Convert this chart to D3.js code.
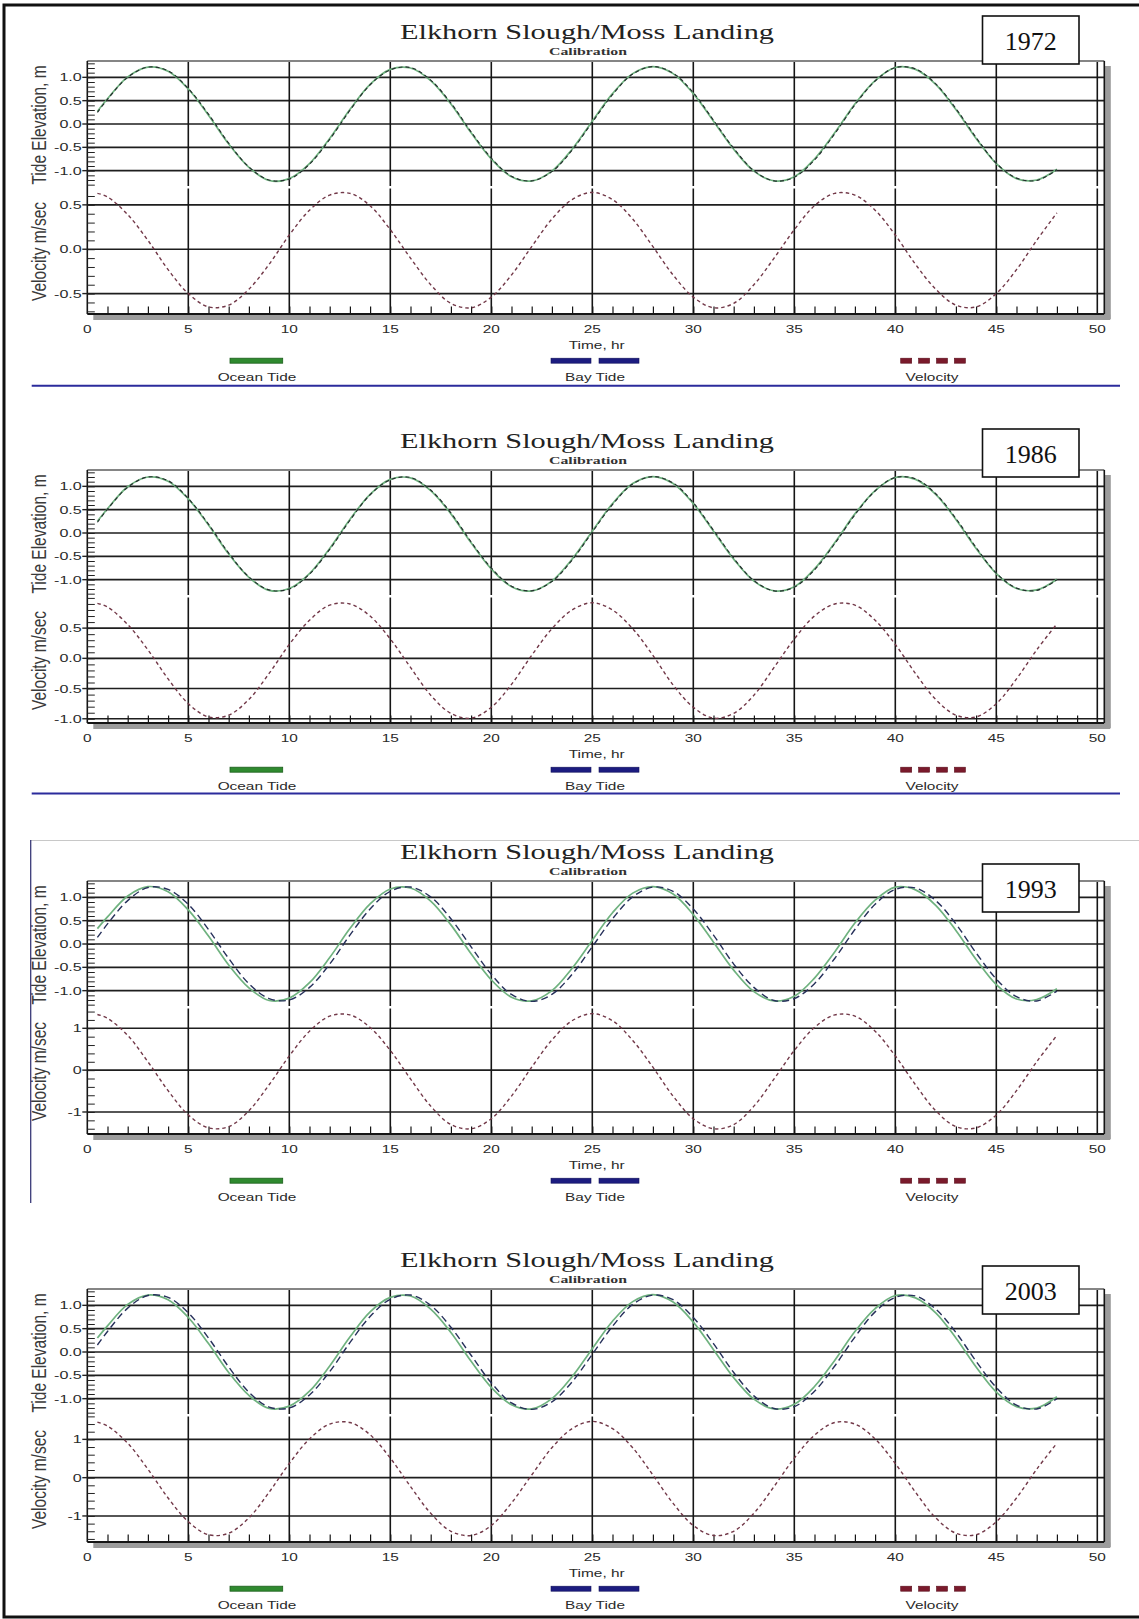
<!DOCTYPE html>
<html><head><meta charset="utf-8">
<script src="https://cdn.jsdelivr.net/npm/d3@7"></script>
<style>body{margin:0;background:#fff}svg{display:block}</style>
</head><body>
<svg id="chart" width="1139" height="1619"></svg>
<script>
// ---------------- DATA ----------------
const titleText = "Elkhorn Slough/Moss Landing";
const subtitleText = "Calibration";
const years = ["1972", "1986", "1993", "2003"];
const hours = [0.5,1,2,3,4,5,6,7,8,9,10,11,12,13,14,15,16,17,18,19,20,21,22,23,24,25,26,27,28,29,30,31,32,33,34,35,36,37,38,39,40,41,42,43,44,45,46,47,48];

const oceanTide1972 = [0.27,0.54,1.01,1.22,1.13,0.75,0.19,-0.43,-0.93,-1.21,-1.17,-0.85,-0.31,0.31,0.85,1.17,1.20,0.93,0.43,-0.19,-0.75,-1.13,-1.22,-1.01,-0.54,0.06,0.65,1.08,1.23,1.08,0.65,0.06,-0.54,-1.01,-1.22,-1.13,-0.75,-0.19,0.43,0.93,1.21,1.17,0.85,0.31,-0.31,-0.85,-1.17,-1.20,-0.97];
const bayTide1972   = [0.25,0.53,1.00,1.22,1.14,0.76,0.21,-0.41,-0.92,-1.20,-1.18,-0.86,-0.33,0.29,0.84,1.16,1.21,0.94,0.45,-0.17,-0.73,-1.12,-1.22,-1.02,-0.56,0.04,0.63,1.07,1.23,1.09,0.67,0.08,-0.52,-1.00,-1.22,-1.14,-0.77,-0.21,0.41,0.92,1.21,1.18,0.86,0.33,-0.29,-0.84,-1.16,-1.21,-0.98];
const velocity1972  = [0.63,0.59,0.39,0.10,-0.23,-0.50,-0.65,-0.63,-0.45,-0.17,0.16,0.44,0.61,0.63,0.49,0.22,-0.10,-0.40,-0.61,-0.66,-0.54,-0.29,0.03,0.34,0.56,0.64,0.56,0.34,0.03,-0.29,-0.54,-0.66,-0.61,-0.40,-0.10,0.22,0.49,0.63,0.61,0.44,0.16,-0.17,-0.45,-0.63,-0.65,-0.50,-0.23,0.10,0.41];

const oceanTide1986 = [0.25,0.52,0.99,1.20,1.11,0.73,0.17,-0.45,-0.95,-1.23,-1.19,-0.87,-0.33,0.29,0.83,1.15,1.18,0.91,0.41,-0.21,-0.77,-1.15,-1.24,-1.03,-0.56,0.04,0.63,1.06,1.21,1.06,0.63,0.04,-0.56,-1.03,-1.24,-1.15,-0.77,-0.21,0.41,0.91,1.19,1.15,0.83,0.29,-0.33,-0.87,-1.19,-1.22,-0.99];
const bayTide1986   = [0.23,0.51,0.98,1.20,1.12,0.74,0.19,-0.43,-0.94,-1.22,-1.20,-0.88,-0.35,0.27,0.82,1.14,1.19,0.92,0.43,-0.19,-0.75,-1.14,-1.24,-1.04,-0.58,0.02,0.61,1.05,1.21,1.07,0.65,0.06,-0.54,-1.02,-1.24,-1.16,-0.79,-0.23,0.39,0.90,1.19,1.16,0.84,0.31,-0.31,-0.86,-1.18,-1.23,-1.00];
const velocity1986  = [0.91,0.85,0.56,0.14,-0.34,-0.75,-0.97,-0.94,-0.68,-0.25,0.23,0.63,0.88,0.90,0.70,0.32,-0.15,-0.61,-0.91,-0.99,-0.81,-0.43,0.05,0.49,0.80,0.92,0.80,0.49,0.05,-0.44,-0.81,-0.99,-0.91,-0.61,-0.15,0.32,0.70,0.90,0.88,0.63,0.23,-0.25,-0.68,-0.94,-0.97,-0.75,-0.34,0.14,0.57];

const oceanTide1993 = [0.33,0.58,1.03,1.23,1.12,0.73,0.17,-0.45,-0.94,-1.21,-1.16,-0.83,-0.29,0.33,0.86,1.18,1.20,0.92,0.41,-0.21,-0.77,-1.14,-1.22,-1.00,-0.52,0.08,0.67,1.09,1.23,1.07,0.63,0.04,-0.56,-1.02,-1.22,-1.12,-0.73,-0.17,0.45,0.94,1.22,1.16,0.83,0.29,-0.33,-0.87,-1.18,-1.19,-0.96];
const bayTide1993   = [0.14,0.43,0.93,1.21,1.17,0.85,0.31,-0.31,-0.85,-1.17,-1.20,-0.93,-0.43,0.19,0.75,1.13,1.22,1.01,0.54,-0.06,-0.65,-1.08,-1.23,-1.08,-0.65,-0.06,0.54,1.01,1.22,1.13,0.75,0.19,-0.43,-0.93,-1.21,-1.17,-0.85,-0.31,0.31,0.85,1.17,1.20,0.93,0.43,-0.19,-0.75,-1.13,-1.22,-1.01];
const velocity1993  = [1.33,1.24,0.83,0.20,-0.49,-1.07,-1.38,-1.35,-0.97,-0.35,0.34,0.93,1.29,1.32,1.02,0.47,-0.21,-0.86,-1.30,-1.40,-1.16,-0.62,0.07,0.72,1.18,1.35,1.18,0.71,0.07,-0.62,-1.16,-1.40,-1.30,-0.86,-0.21,0.47,1.02,1.32,1.29,0.93,0.34,-0.35,-0.97,-1.35,-1.38,-1.07,-0.49,0.20,0.83];

const oceanTide2003 = [0.30,0.56,1.02,1.22,1.12,0.74,0.18,-0.44,-0.93,-1.21,-1.16,-0.84,-0.30,0.32,0.86,1.17,1.20,0.92,0.42,-0.20,-0.76,-1.13,-1.22,-1.00,-0.53,0.07,0.66,1.08,1.23,1.07,0.64,0.05,-0.55,-1.01,-1.22,-1.12,-0.74,-0.18,0.44,0.93,1.21,1.16,0.84,0.30,-0.32,-0.86,-1.17,-1.20,-0.96];
const bayTide2003   = [0.15,0.44,0.94,1.21,1.17,0.84,0.30,-0.32,-0.86,-1.18,-1.20,-0.92,-0.42,0.20,0.76,1.13,1.22,1.00,0.53,-0.07,-0.66,-1.09,-1.23,-1.07,-0.64,-0.05,0.55,1.02,1.22,1.12,0.74,0.18,-0.44,-0.94,-1.21,-1.17,-0.84,-0.30,0.32,0.86,1.17,1.20,0.92,0.42,-0.20,-0.76,-1.14,-1.22,-1.00];
const velocity2003  = [1.45,1.35,0.90,0.22,-0.53,-1.15,-1.49,-1.45,-1.05,-0.38,0.37,1.01,1.40,1.44,1.12,0.51,-0.23,-0.93,-1.40,-1.51,-1.25,-0.66,0.07,0.78,1.28,1.47,1.28,0.78,0.07,-0.67,-1.25,-1.51,-1.40,-0.93,-0.23,0.51,1.11,1.44,1.40,1.01,0.37,-0.38,-1.05,-1.45,-1.49,-1.15,-0.53,0.22,0.90];

const oceanTides = [oceanTide1972, oceanTide1986, oceanTide1993, oceanTide2003];
const bayTides = [bayTide1972, bayTide1986, bayTide1993, bayTide2003];
const velocities = [velocity1972, velocity1986, velocity1993, velocity2003];

const xTicks = [0,5,10,15,20,25,30,35,40,45,50];
const tideTicks = [1.0, 0.5, 0.0, -0.5, -1.0];
const tideTickLabels = ["1.0","0.5","0.0","-0.5","-1.0"];
const tideDomain = [-1.35, 1.35];
const velocityDomains = [[-0.73, 0.69], [-1.07, 1.015], [-1.526, 1.485], [-1.68, 1.61]];
const velocityTicks = [[0.5, 0, -0.5], [0.5, 0, -0.5, -1.0], [1, 0, -1], [1, 0, -1]];
const velocityTickLabels = [["0.5","0.0","-0.5"], ["0.5","0.0","-0.5","-1.0"], ["1","0","-1"], ["1","0","-1"]];
const velocityMinorSteps = [0.1, 0.1, 0.2, 0.2];
const legendLabels = ["Ocean Tide", "Bay Tide", "Velocity"];
const axisTitles = ["Tide Elevation, m", "Velocity m/sec", "Time, hr"];

// ---------------- LAYOUT ----------------
const panelOffsets = [0, 409, 820, 1228];
const yearBoxTops = [16, 20, 44, 38];
const P = { left: 87.3, right50: 1097.3, frameR: 1104.3, top: 61, split: 187, bottom: 314 };
const SANS = "'Liberation Sans', Arial, sans-serif";
const SERIF = "'Liberation Serif', 'Times New Roman', serif";
const SX = 1.4; // horizontal stretch of the original bitmap text

const svg = d3.select("#chart");
svg.append("rect").attr("width", 1139).attr("height", 1619).attr("fill", "#fff");

function stext(g, x, y, str, o) {
  o = o || {};
  const sx = o.sx === undefined ? SX : o.sx;
  return g.append("text")
    .attr("transform", `translate(${x},${y}) scale(${sx},1)` + (o.rotate ? ` rotate(${o.rotate})` : ""))
    .attr("text-anchor", o.anchor || "middle")
    .attr("font-family", o.family || SANS)
    .attr("font-size", o.size || 11)
    .attr("font-weight", o.weight || "normal")
    .attr("fill", o.fill || "#2a2a2a")
    .text(str);
}

function drawPanel(i) {
  const g = svg.append("g").attr("transform", `translate(0,${panelOffsets[i]})`);
  const x = d3.scaleLinear().domain([0, 50]).range([P.left, P.right50]);
  const yT = d3.scaleLinear().domain(tideDomain).range([P.split, P.top]);
  const yV = d3.scaleLinear().domain(velocityDomains[i]).range([P.bottom, P.split + 1]);

  // drop shadow of the plot frame
  g.append("rect").attr("x", P.frameR + 0.5).attr("y", P.top + 5).attr("width", 6).attr("height", P.bottom - P.top)
    .attr("fill", "#9c9c9c");
  g.append("rect").attr("x", P.left + 6).attr("y", P.bottom + 0.5).attr("width", P.frameR - P.left).attr("height", 5.5)
    .attr("fill", "#9c9c9c");

  // horizontal gridlines
  g.selectAll(".ht").data(tideTicks).enter().append("line")
    .attr("x1", P.left).attr("x2", P.frameR).attr("y1", d => yT(d)).attr("y2", d => yT(d))
    .attr("stroke", "#1e1e1e").attr("stroke-width", 1.6);
  g.selectAll(".hv").data(velocityTicks[i]).enter().append("line")
    .attr("x1", P.left).attr("x2", P.frameR).attr("y1", d => yV(d)).attr("y2", d => yV(d))
    .attr("stroke", "#1e1e1e").attr("stroke-width", 1.6);

  // vertical gridlines (broken at the sub-panel boundary)
  const vg = xTicks.filter(d => d > 0);
  g.selectAll(".vg1").data(vg).enter().append("line")
    .attr("x1", d => x(d)).attr("x2", d => x(d)).attr("y1", P.top).attr("y2", P.split - 1)
    .attr("stroke", "#151515").attr("stroke-width", 1.6);
  g.selectAll(".vg2").data(vg).enter().append("line")
    .attr("x1", d => x(d)).attr("x2", d => x(d)).attr("y1", P.split + 1.5).attr("y2", P.bottom)
    .attr("stroke", "#151515").attr("stroke-width", 1.6);

  // frame
  g.append("line").attr("x1", P.left).attr("x2", P.frameR).attr("y1", P.top).attr("y2", P.top)
    .attr("stroke", "#858585").attr("stroke-width", 2);
  g.append("line").attr("x1", P.frameR).attr("x2", P.frameR).attr("y1", P.top).attr("y2", P.bottom)
    .attr("stroke", "#151515").attr("stroke-width", 1.6);
  g.append("line").attr("x1", P.left).attr("x2", P.left).attr("y1", P.top).attr("y2", P.bottom)
    .attr("stroke", "#151515").attr("stroke-width", 1.6);
  g.append("line").attr("x1", P.left).attr("x2", P.frameR).attr("y1", P.bottom).attr("y2", P.bottom)
    .attr("stroke", "#151515").attr("stroke-width", 1.8);

  // hourly ticks on the time axis
  const xAxis = d3.axisBottom(x).tickValues(d3.range(1, 50)).tickSize(-7.5).tickFormat("");
  const xa = g.append("g").attr("transform", `translate(0,${P.bottom})`).call(xAxis);
  xa.select(".domain").remove();
  xa.selectAll(".tick line").attr("stroke", "#151515").attr("stroke-width", 1.2);

  // minor ticks on the y axes
  const tideMinor = d3.range(-13, 14).map(k => k / 10);
  const ta = g.append("g").attr("transform", `translate(${P.left},0)`)
    .call(d3.axisRight(yT).tickValues(tideMinor).tickSize(7.5).tickFormat(""));
  ta.select(".domain").remove();
  ta.selectAll(".tick line").attr("stroke", "#222").attr("stroke-width", 1);
  const [vlo, vhi] = velocityDomains[i];
  const st = velocityMinorSteps[i];
  const vMinor = d3.range(Math.ceil(vlo / st - 1e-6), Math.floor(vhi / st + 1e-6) + 1).map(k => +(k * st).toFixed(2));
  const va = g.append("g").attr("transform", `translate(${P.left},0)`)
    .call(d3.axisRight(yV).tickValues(vMinor).tickSize(7.5).tickFormat(""));
  va.select(".domain").remove();
  va.selectAll(".tick line").attr("stroke", "#222").attr("stroke-width", 1);

  // major ticks + labels on y
  tideTicks.forEach((d, k) => {
    g.append("line").attr("x1", P.left - 5).attr("x2", P.left).attr("y1", yT(d)).attr("y2", yT(d))
      .attr("stroke", "#222").attr("stroke-width", 1.4);
    stext(g, P.left - 5.5, yT(d) + 4, tideTickLabels[k], { anchor: "end", size: 11.5 });
  });
  velocityTicks[i].forEach((d, k) => {
    g.append("line").attr("x1", P.left - 5).attr("x2", P.left).attr("y1", yV(d)).attr("y2", yV(d))
      .attr("stroke", "#222").attr("stroke-width", 1.4);
    stext(g, P.left - 5.5, yV(d) + 4, velocityTickLabels[i][k], { anchor: "end", size: 11.5 });
  });

  // x labels
  xTicks.forEach(d => stext(g, x(d), 333, String(d), { size: 11 }));
  stext(g, 596.7, 348.5, axisTitles[2], { size: 11 });

  // y titles
  stext(g, 45.5, (P.top + P.split) / 2 + 1, axisTitles[0], { rotate: -90, size: 15.5, sx: 1.25, fill: "#3a3a3a" });
  stext(g, 45.5, (P.split + P.bottom) / 2 + 1, axisTitles[1], { rotate: -90, size: 15.5, sx: 1.25, fill: "#3a3a3a" });

  // curves
  const tideLine = d3.line().x((d, k) => x(hours[k])).y(d => yT(d)).curve(d3.curveCatmullRom.alpha(0.5));
  const velLine = d3.line().x((d, k) => x(hours[k])).y(d => yV(d)).curve(d3.curveCatmullRom.alpha(0.5));
  g.append("path").attr("d", tideLine(oceanTides[i])).attr("fill", "none")
    .attr("stroke", "#6fb27f").attr("stroke-width", 1.7);
  const lagged = i >= 2;
  g.append("path").attr("d", tideLine(bayTides[i])).attr("fill", "none")
    .attr("stroke", lagged ? "#26305a" : "#24302e").attr("stroke-width", lagged ? 1.4 : 1.2)
    .attr("stroke-dasharray", lagged ? "7,4" : "4,3");
  g.append("path").attr("d", velLine(velocities[i])).attr("fill", "none")
    .attr("stroke", "#723848").attr("stroke-width", 1.4).attr("stroke-dasharray", "3.5,3");

  // title
  g.append("text").attr("x", 587).attr("y", 38.5).attr("text-anchor", "middle")
    .attr("font-family", SERIF).attr("font-size", 20.5).attr("fill", "#222")
    .attr("textLength", 374).attr("lengthAdjust", "spacingAndGlyphs").text(titleText);
  g.append("text").attr("x", 588).attr("y", 55).attr("text-anchor", "middle")
    .attr("font-family", SERIF).attr("font-size", 9.5).attr("font-weight", "bold").attr("fill", "#333")
    .attr("textLength", 78).attr("lengthAdjust", "spacingAndGlyphs").text(subtitleText);

  // year box
  const by = yearBoxTops[i];
  g.append("rect").attr("x", 982.5).attr("y", by).attr("width", 96.5).attr("height", 48)
    .attr("fill", "#fff").attr("stroke", "#111").attr("stroke-width", 1.6);
  g.append("text").attr("x", 1030.7).attr("y", by + 34).attr("text-anchor", "middle")
    .attr("font-family", SERIF).attr("font-size", 26).attr("fill", "#111").text(years[i]);

  // legend
  const ly = 360.7;
  g.append("rect").attr("x", 230).attr("y", ly - 2.5).attr("width", 52.7).attr("height", 5)
    .attr("fill", "#2f8a2f").attr("stroke", "#1c5e1c").attr("stroke-width", 0.8);
  [[551, 591], [599, 639]].forEach(s => g.append("rect").attr("x", s[0]).attr("y", ly - 2.5)
    .attr("width", s[1] - s[0]).attr("height", 5).attr("fill", "#1c1c80").attr("stroke", "#12125a").attr("stroke-width", 0.6));
  [0, 1, 2, 3].forEach(k => g.append("rect").attr("x", 900.7 + k * 17.9).attr("y", ly - 2.5)
    .attr("width", 11).attr("height", 5).attr("fill", "#7a1a2c").attr("stroke", "#5a0f1c").attr("stroke-width", 0.6));
  stext(g, 257, 381, legendLabels[0], { size: 11 });
  stext(g, 595, 381, legendLabels[1], { size: 11 });
  stext(g, 932, 381, legendLabels[2], { size: 11 });
}

[0, 1, 2, 3].forEach(drawPanel);

// separators between panels
svg.append("line").attr("x1", 31.7).attr("x2", 1120).attr("y1", 385.7).attr("y2", 385.7)
  .attr("stroke", "#2b2b9c").attr("stroke-width", 2);
svg.append("line").attr("x1", 31.7).attr("x2", 1120).attr("y1", 793.5).attr("y2", 793.5)
  .attr("stroke", "#2b2b9c").attr("stroke-width", 2);
// thin frame around the 1993 panel
svg.append("line").attr("x1", 30.7).attr("x2", 1139).attr("y1", 840.5).attr("y2", 840.5)
  .attr("stroke", "#c8c8c8").attr("stroke-width", 1.2);
svg.append("line").attr("x1", 30.7).attr("x2", 30.7).attr("y1", 840).attr("y2", 1203)
  .attr("stroke", "#3a3a78").attr("stroke-width", 1.3);

// outer border
svg.append("rect").attr("x", 4).attr("y", 5).attr("width", 1145).attr("height", 1612)
  .attr("fill", "none").attr("stroke", "#111").attr("stroke-width", 3);
</script>
</body></html>
